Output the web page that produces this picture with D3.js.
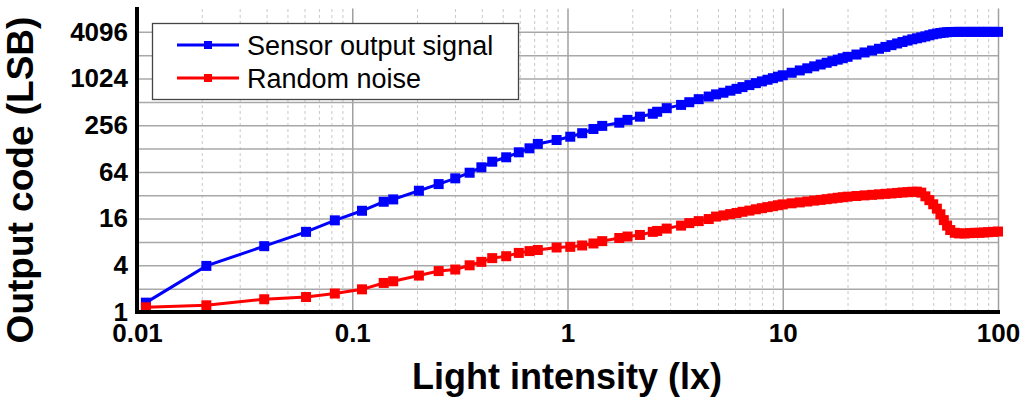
<!DOCTYPE html>
<html>
<head>
<meta charset="utf-8">
<script src="https://cdn.jsdelivr.net/npm/d3@7"></script>
<style>
  body { margin: 0; background: #fff; }
  svg { display: block; font-family: "Liberation Sans", Arial, sans-serif; }
</style>
</head>
<body>
<div id="chart"></div>
<script>
// light intensity (lx) of each measurement point
const lux = [0.011, 0.021, 0.039, 0.061, 0.083, 0.111, 0.14, 0.155, 0.204, 0.252, 0.301, 0.351, 0.398, 0.447, 0.519, 0.594, 0.666, 0.728,
  0.89, 1.03, 1.17, 1.32, 1.45, 1.74, 1.9, 2.17, 2.49, 2.61, 2.89, 3.37, 3.68, 4.07, 4.53, 4.9,
  5.3, 5.7, 6.1, 6.5, 7, 7.5, 8, 8.5, 9, 9.5,
  10, 11, 12, 13, 14, 15, 16, 17, 18, 19, 20,
  22, 24, 26, 28, 30, 32, 34, 36, 38, 40,
  42, 44, 46, 48, 50, 52, 54, 56, 58, 60,
  63, 66, 70, 74, 78, 82, 86, 90, 95, 100]

const signal = [1.32, 3.93, 7.06, 10.8, 15.2, 20.2, 26.4, 28.3, 36.6, 44.6, 52.9, 62.5, 73.4, 86.7, 98.8, 114.6, 129, 147,
  165, 182, 202, 229, 251, 276, 300, 330, 360, 382, 425, 468, 507, 555, 600, 640,
  672, 714, 754, 794, 843, 893, 941, 988, 1035, 1082,
  1128, 1216, 1303, 1387, 1471, 1553, 1635, 1715, 1794, 1872, 1951,
  2088, 2221, 2351, 2479, 2620, 2760, 2900, 3030, 3160, 3280,
  3380, 3480, 3580, 3700, 3810, 3890, 3960, 4010, 4050, 4075,
  4090, 4095, 4095, 4095, 4095, 4095, 4095, 4095, 4095, 4095]

const noise = [1.15, 1.22, 1.46, 1.56, 1.73, 1.96, 2.37, 2.49, 2.95, 3.37, 3.53, 4.0, 4.43, 4.95, 5.24, 5.78, 6.1, 6.3,
  6.79, 6.92, 7.21, 7.65, 8.2, 9.0, 9.4, 9.85, 10.8, 11.1, 11.9, 13.0, 14.0, 14.85, 15.8, 17.0,
  17.6, 18.3, 18.9, 19.6, 20.3, 21.1, 21.8, 22.5, 23.1, 23.8,
  24.4, 25.2, 25.9, 26.6, 27.3, 27.9, 28.5, 29.1, 29.7, 30.2, 30.7,
  31.3, 31.9, 32.4, 32.9, 33.4, 33.8, 34.3, 34.8, 35.1, 35.5,
  35.6, 34.6, 31.0, 27.7, 24.5, 21.5, 18.2, 15.3, 13.0, 11.4,
  10.5, 10.3, 10.3, 10.4, 10.5, 10.5, 10.6, 10.7, 10.8, 10.9]

const xTicks = [0.01, 0.1, 1, 10, 100]
const xTickLabels = ["0.01", "0.1", "1", "10", "100"]
const yTicks = [1, 4, 16, 64, 256, 1024, 4096]
const seriesNames = ["Sensor output signal", "Random noise"]
const seriesColors = ["#0000ff", "#ff0000"]

const W = 1024, H = 399
const LEFT = 137, RIGHT = 998, TOP = 8.5, BOTTOM = 312

const svg = d3.select("#chart").append("svg")
    .attr("width", W)
    .attr("height", H)

const x = d3.scaleLog().domain([0.01, 100]).range([LEFT, RIGHT])
const y = d3.scaleLog().base(2).domain([1, 8192]).range([BOTTOM, TOP])

// grid
const minorX = x.ticks().filter(d => !xTicks.includes(d))
svg.append("g")
    .attr("transform", `translate(0, ${BOTTOM})`)
    .call(d3.axisBottom(x).tickValues(minorX).tickSize(-(BOTTOM - TOP)).tickFormat(""))
    .call(g => g.select(".domain").remove())
    .call(g => g.selectAll("line").attr("stroke", "#c8c8c8").attr("stroke-width", 1).attr("stroke-dasharray", "3,3"))

svg.append("g")
    .attr("transform", `translate(0, ${BOTTOM})`)
    .call(d3.axisBottom(x).tickValues(xTicks).tickSize(-(BOTTOM - TOP)).tickFormat(""))
    .call(g => g.select(".domain").remove())
    .call(g => g.selectAll("line").attr("stroke", "#a0a0a0").attr("stroke-width", 1.5))

const gridY = y.ticks().filter(d => d > 1 && d < 8192)
svg.append("g")
    .attr("transform", `translate(${LEFT}, 0)`)
    .call(d3.axisLeft(y).tickValues(gridY).tickSize(-(RIGHT - LEFT)).tickFormat(""))
    .call(g => g.select(".domain").remove())
    .call(g => g.selectAll("line").attr("stroke", "#a8a8a8").attr("stroke-width", 1.5))

// series
const rows = lux.map((d, i) => ({ x: d, s: signal[i], n: noise[i] }))
const keys = ["s", "n"]

keys.forEach((k, i) => {
    const line = d3.line().x(d => x(d.x)).y(d => y(d[k]))
    svg.append("path")
        .datum(rows)
        .attr("fill", "none")
        .attr("stroke", seriesColors[i])
        .attr("stroke-width", 3)
        .attr("d", line)

    svg.append("g").selectAll("rect")
        .data(rows)
        .join("rect")
        .attr("x", d => x(d.x) - 5)
        .attr("y", d => y(d[k]) - 5)
        .attr("width", 10)
        .attr("height", 10)
        .attr("fill", seriesColors[i])
})

// axes
svg.append("line")
    .attr("x1", LEFT).attr("x2", LEFT)
    .attr("y1", 7).attr("y2", BOTTOM + 2)
    .attr("stroke", "#000").attr("stroke-width", 4)
svg.append("line")
    .attr("x1", LEFT - 2).attr("x2", RIGHT + 2)
    .attr("y1", BOTTOM).attr("y2", BOTTOM)
    .attr("stroke", "#000").attr("stroke-width", 4)

svg.append("g")
    .attr("transform", `translate(${LEFT - 9}, 0)`)
    .call(d3.axisLeft(y).tickValues(yTicks).tickSize(0).tickPadding(0).tickFormat(d3.format("d")))
    .call(g => g.select(".domain").remove())
    .call(g => g.selectAll("text")
        .attr("font-family", "Liberation Sans, Arial, sans-serif")
        .attr("font-size", 26).attr("font-weight", "bold").attr("fill", "#000"))

svg.append("g")
    .attr("transform", `translate(0, ${BOTTOM + 12})`)
    .call(d3.axisBottom(x).tickValues(xTicks).tickSize(0).tickPadding(0).tickFormat((d, i) => xTickLabels[i]))
    .call(g => g.select(".domain").remove())
    .call(g => g.selectAll("text")
        .attr("font-family", "Liberation Sans, Arial, sans-serif")
        .attr("font-size", 26).attr("font-weight", "bold").attr("fill", "#000"))

svg.append("text")
    .attr("x", 567)
    .attr("y", 389)
    .attr("text-anchor", "middle")
    .attr("font-size", 36)
    .attr("font-weight", "bold")
    .text("Light intensity (lx)")

svg.append("text")
    .attr("transform", "translate(33, 180) rotate(-90)")
    .attr("text-anchor", "middle")
    .attr("font-size", 37)
    .attr("font-weight", "bold")
    .text("Output code (LSB)")

// legend
const legend = svg.append("g")
legend.append("rect")
    .attr("x", 152.5).attr("y", 23.5)
    .attr("width", 366).attr("height", 76)
    .attr("fill", "#fff").attr("stroke", "#444").attr("stroke-width", 1.3)

seriesNames.forEach((name, i) => {
    const cy = 45 + i * 33
    legend.append("line")
        .attr("x1", 177).attr("x2", 239)
        .attr("y1", cy).attr("y2", cy)
        .attr("stroke", seriesColors[i]).attr("stroke-width", 3)
    legend.append("rect")
        .attr("x", 204).attr("y", cy - 4)
        .attr("width", 8).attr("height", 8)
        .attr("fill", seriesColors[i])
    legend.append("text")
        .attr("x", 247).attr("y", cy + 9.5)
        .attr("font-size", 27)
        .text(name)
})
</script>
</body>
</html>
